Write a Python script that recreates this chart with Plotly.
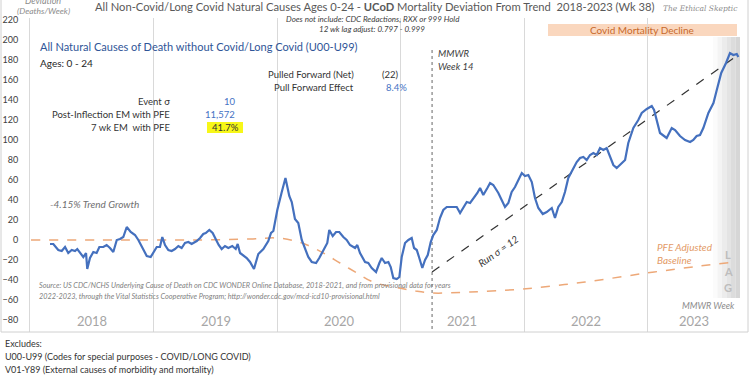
import plotly.graph_objects as go

# ---------------- data ----------------
weeks = [
    2018.158, 2018.185, 2018.225, 2018.253, 2018.280, 2018.306, 2018.334, 2018.361, 2018.379, 2018.407,
    2018.428, 2018.450, 2018.460, 2018.482, 2018.509, 2018.536, 2018.558, 2018.590, 2018.617, 2018.644,
    2018.671, 2018.699, 2018.725, 2018.752, 2018.780, 2018.812, 2018.847, 2018.874, 2018.901, 2018.942,
    2018.974, 2019.001, 2019.023, 2019.049, 2019.068, 2019.090, 2019.117, 2019.144, 2019.171, 2019.198,
    2019.225, 2019.252, 2019.279, 2019.306, 2019.347, 2019.374, 2019.400, 2019.420, 2019.449, 2019.476,
    2019.503, 2019.525, 2019.549, 2019.576, 2019.603, 2019.635, 2019.663, 2019.679, 2019.698, 2019.724,
    2019.752, 2019.779, 2019.811, 2019.846, 2019.887, 2019.927, 2019.949, 2019.968, 2020.000, 2020.036,
    2020.066, 2020.097, 2020.117, 2020.143, 2020.170, 2020.198, 2020.224, 2020.251, 2020.279, 2020.314,
    2020.340, 2020.360, 2020.387, 2020.405, 2020.421, 2020.449, 2020.476, 2020.502, 2020.535, 2020.562,
    2020.589, 2020.630, 2020.648, 2020.670, 2020.711, 2020.737, 2020.765, 2020.800, 2020.827, 2020.846,
    2020.873, 2020.900, 2020.919, 2020.940, 2020.968, 2020.989, 2021.008, 2021.035, 2021.062, 2021.089,
    2021.108, 2021.130, 2021.148, 2021.175, 2021.197, 2021.219, 2021.243, 2021.264, 2021.292, 2021.318,
    2021.345, 2021.373, 2021.413, 2021.454, 2021.481, 2021.507, 2021.535, 2021.562, 2021.594, 2021.621,
    2021.643, 2021.669, 2021.702, 2021.724, 2021.750, 2021.791, 2021.818, 2021.845, 2021.872, 2021.899,
    2021.926, 2021.953, 2021.981, 2022.007, 2022.034, 2022.062, 2022.088, 2022.115, 2022.151, 2022.183,
    2022.224, 2022.250, 2022.277, 2022.305, 2022.331, 2022.358, 2022.386, 2022.426, 2022.453, 2022.480,
    2022.507, 2022.534, 2022.561, 2022.588, 2022.615, 2022.642, 2022.669, 2022.696, 2022.723, 2022.750,
    2022.791, 2022.818, 2022.844, 2022.885, 2022.925, 2022.953, 2022.994, 2023.034, 2023.053, 2023.075,
    2023.101, 2023.155, 2023.196, 2023.223, 2023.263, 2023.304, 2023.345, 2023.371, 2023.398, 2023.425,
    2023.452, 2023.493, 2023.534, 2023.561, 2023.597, 2023.636, 2023.668, 2023.695, 2023.723, 2023.736,
]
deviation = [
    -4, -4, -10, -11, -7, -13, -10, -11, -9, -14,
    -17, -13, -29, -18, -12, -13, -7, -7, -5, -8,
    -12, 0, 1, 3, 13, 8, 5, 0, -7, -16,
    -17, -12, -7, -7, 3, -5, -10, -11, -9, -6,
    -8, -3, -2, -4, -1, 2, 6, 7, 10, 7,
    0, -5, -9, -6, -8, -6, -9, -4, -13, -15,
    -18, -22, -29, -14, -9, -1, 7, 9, 30, 48,
    62, 44, 38, 21, 17, 0, -8, -17, -22, -23,
    -18, -13, -7, -3, 10, 4, 8, 8, 3, 0,
    -5, -8, -5, -13, -22, -23, -28, -32, -23, -18,
    -23, -22, -27, -38, -39, -37, -17, -3, 0, 2,
    -8, -10, -17, -28, -20, -15, -2, 5, 10, 22,
    30, 33, 33, 33, 27, 32, 38, 37, 42, 47,
    52, 45, 52, 57, 55, 47, 40, 33, 37, 48,
    53, 60, 67, 64, 65, 58, 42, 32, 26, 28,
    32, 22, 33, 38, 48, 62, 68, 78, 82, 83,
    80, 85, 87, 85, 92, 90, 92, 83, 75, 72,
    77, 80, 97, 112, 120, 127, 131, 134, 130, 120,
    107, 102, 112, 110, 104, 100, 98, 100, 104, 105,
    112, 127, 137, 150, 167, 177, 187, 185, 186, 183,
]

baseline_weeks = [2018.004, 2018.563, 2019.374, 2019.779, 2019.998, 2020.143, 2020.241, 2020.387,
                  2020.508, 2020.646, 2020.776, 2020.986, 2021.116, 2021.254, 2021.562, 2021.991,
                  2022.494, 2022.996, 2023.426, 2023.710]
baseline = [0, 0, 0, 1, 2, -1, -5, -14, -23, -33, -42, -48, -51, -53, -52, -49, -42, -33, -26, -22]

trend_weeks = [2021.254, 2023.733]
trend_values = [-32, 185]

mmwr_week14 = 2021.254
year_boundaries = [2019, 2020, 2021, 2022, 2023]
year_labels = ["2018", "2019", "2020", "2021", "2022", "2023"]
year_label_pos = [2018.5, 2019.5, 2020.5, 2021.5, 2022.5, 2023.38]
y_ticks = list(range(-80, 221, 20))

# ---------------- figure ----------------
W, H = 750, 375
ML, MR, MT, MB = 30, 2, 18, 43
PW, PH = W - ML - MR, H - MT - MB
FONT = "Lato"


def xp(px):
    return (px - ML) / PW


def yp(py):
    return (H - MB - py) / PH


fig = go.Figure()

fig.add_trace(go.Scatter(x=baseline_weeks, y=baseline, mode="lines",
                         line=dict(color="#EDA878", width=1.5, dash="dash", shape="spline"),
                         hoverinfo="skip", showlegend=False))
fig.add_trace(go.Scatter(x=trend_weeks, y=trend_values, mode="lines",
                         line=dict(color="#333333", width=1.2, dash="dash"),
                         hoverinfo="skip", showlegend=False))
fig.add_trace(go.Scatter(x=[mmwr_week14, mmwr_week14], y=[190, -92], mode="lines",
                         line=dict(color="#666666", width=1, dash="dot"),
                         hoverinfo="skip", showlegend=False))
fig.add_trace(go.Scatter(x=weeks, y=deviation, mode="lines",
                         line=dict(color="#4470BE", width=2.2),
                         showlegend=False))

shapes = []
# LAG gradient band
lag_cols = ["#FBFBFB", "#F4F4F4", "#ECECEC", "#E4E4E4", "#DCDCDC", "#D6D6D6"]
x0 = 713
for i, c in enumerate(lag_cols):
    shapes.append(dict(type="rect", xref="paper", yref="paper", layer="below",
                       x0=xp(x0 + i * 4.5), x1=xp(x0 + (i + 1) * 4.5),
                       y0=yp(298), y1=yp(37), fillcolor=c, line=dict(width=0)))
# Covid mortality decline banner
shapes.append(dict(type="rect", xref="paper", yref="paper", layer="below",
                   x0=xp(548), x1=xp(737), y0=yp(36), y1=yp(24),
                   fillcolor="#FAD7BE", line=dict(width=0)))
# yellow highlight
shapes.append(dict(type="rect", xref="paper", yref="paper", layer="below",
                   x0=xp(207), x1=xp(243), y0=yp(133), y1=yp(122),
                   fillcolor="#F7F718", line=dict(width=0)))
# chart frame
shapes.append(dict(type="rect", xref="paper", yref="paper", layer="above",
                   x0=xp(1), x1=xp(748), y0=yp(332), y1=yp(-5),
                   fillcolor="rgba(0,0,0,0)", line=dict(color="#D0D0D0", width=1)))

anns = []


def ann(text, px, py, size=10, color="#404040", xanchor="left", angle=0, family=FONT):
    anns.append(dict(text=text, x=xp(px), y=yp(py), xref="paper", yref="paper",
                     xanchor=xanchor, yanchor="middle", showarrow=False, textangle=angle,
                     font=dict(family=family, size=size, color=color)))


ann("All Non-Covid/Long Covid Natural Causes Ages 0-24 - <b>UCoD</b> Mortality Deviation From Trend  2018-2023 (Wk 38)",
    375, 6, size=11.2, color="#595959", xanchor="center")
ann("<i>The Ethical Skeptic</i>", 700, 8, size=7.5, color="#8C8C8C", xanchor="center", family="DejaVu Serif")
ann("<i>Deviation</i>", 43, 1, size=9, color="#8C8C8C", xanchor="center")
ann("<i>(Deaths/Week)</i>", 43, 11, size=8.5, color="#8C8C8C", xanchor="center")
ann("<i>Does not include: CDC Redactions, RXX or 999 Hold</i>", 373, 19, size=8, color="#404040", xanchor="center")
ann("<i>12 wk lag adjust: 0.797 - 0.999</i>", 372, 29, size=8, color="#404040", xanchor="center")
ann("Covid Mortality Decline", 642, 30, size=10, color="#C8692A", xanchor="center")

ann("All Natural Causes of Death without Covid/Long Covid (U00-U99)", 38, 47, size=11, color="#2F5597")
ann("Ages: 0 - 24", 38, 63, size=10, color="#262626")

ann("Event σ", 172, 101, size=9.5, color="#333333", xanchor="right")
ann("Post-Inflection EM with PFE", 172, 114, size=9.5, color="#333333", xanchor="right")
ann("7 wk EM  with PFE", 172, 127, size=9.5, color="#333333", xanchor="right")
ann("10", 238, 101, size=9.5, color="#4472C4", xanchor="right")
ann("11,572", 237, 114, size=9.5, color="#4472C4", xanchor="right")
ann("41.7%", 241, 127, size=9.5, color="#333333", xanchor="right")

ann("Pulled Forward (Net)", 356, 75, size=9.5, color="#333333", xanchor="right")
ann("Pull Forward Effect", 356, 88, size=9.5, color="#333333", xanchor="right")
ann("(22)", 391, 75, size=9.5, color="#333333", xanchor="center")
ann("8.4%", 396, 88, size=9.5, color="#4472C4", xanchor="center")

ann("<i>MMWR</i>", 436, 54, size=9.5, color="#404040")
ann("<i>Week 14</i>", 436, 67, size=9.5, color="#404040")

ann("<i>-4.15% Trend Growth</i>", 48, 204, size=10, color="#707070")
ann("<i>Source: US CDC/NCHS Underlying Cause of Death on CDC WONDER Online Database, 2018-2021, and from provisional data for years</i>",
    37, 285, size=7.3, color="#7F7F7F")
ann("<i>2022-2023, through the Vital Statistics Cooperative Program; http://wonder.cdc.gov/mcd-icd10-provisional.html</i>",
    37, 296, size=7.3, color="#7F7F7F")

ann("<i>Run σ = 12</i>", 498, 251, size=10, color="#333333", xanchor="center", angle=-35)
ann("<i>PFE Adjusted</i>", 655, 247, size=10, color="#E39A66")
ann("<i>Baseline</i>", 655, 260, size=10, color="#E39A66")
for letter, py in zip(["L", "A", "G"], [255, 271, 287]):
    ann("<b>" + letter + "</b>", 728, py, size=11, color="#BDBDBD", xanchor="center")
ann("<i>MMWR Week</i>", 708, 305, size=9, color="#8C8C8C", xanchor="center")

ann("Excludes:", 3, 343, size=9, color="#333333")
ann("U00-U99 (Codes for special purposes - COVID/LONG COVID)", 3, 356, size=9, color="#333333")
ann("V01-Y89 (External causes of morbidity and mortality)", 3, 369, size=9, color="#333333")

for lab, pos in zip(year_labels, year_label_pos):
    anns.append(dict(text=lab, x=pos, y=-81, xref="x", yref="y", showarrow=False,
                     xanchor="center", yanchor="middle",
                     font=dict(family=FONT, size=13, color="#A6A6A6")))

fig.update_layout(
    width=W, height=H,
    margin=dict(l=ML, r=MR, t=MT, b=MB),
    paper_bgcolor="white", plot_bgcolor="white",
    font=dict(family=FONT),
    shapes=shapes, annotations=anns,
    xaxis=dict(range=[2017.996, 2023.814], tickvals=year_boundaries, showticklabels=False,
               showgrid=True, gridcolor="#D9D9D9", gridwidth=1, zeroline=False, showline=False, ticks=""),
    yaxis=dict(range=[-92, 222], tickvals=y_ticks, showgrid=False, zeroline=False,
               showline=True, linecolor="#D9D9D9", ticks="", ticklabelstandoff=9,
               tickfont=dict(family=FONT, size=9, color="#404040")),
)

fig.write_html("out.html", config={"displayModeBar": False},
               post_script="document.body.style.margin='0px';document.body.style.overflow='hidden';")
